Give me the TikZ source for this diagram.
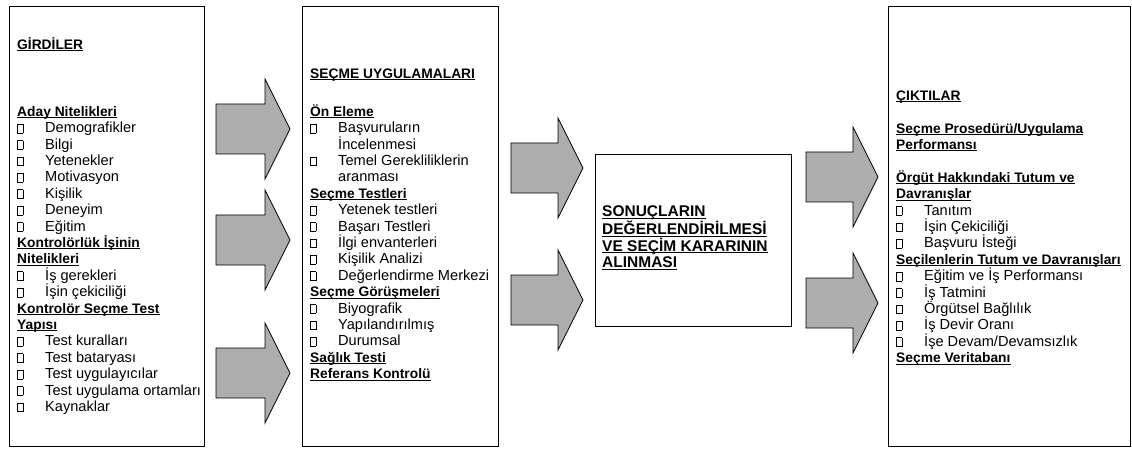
\documentclass[tikz,border=0pt]{standalone}
\usepackage{fontspec}
\setmainfont{Liberation Sans}
\begin{document}
% underlined word group, rule just below the baseline
\newcommand\ulx[1]{\setbox0\hbox{#1}\rlap{\rule[-2pt]{\wd0}{1pt}}\box0}
% small open square used as list bullet
\newcommand\sqb{{\fboxsep=0pt\fboxrule=0.8pt\fbox{\rule{0pt}{8pt}\hspace{4.6pt}}}}
\newcommand\itm[1]{\makebox[28pt][l]{\sqb}#1}
\newcommand\hd[1]{{\fontsize{13.8}{16.4}\selectfont\bfseries\ulx{#1}}}
\newcommand\cont[1]{\hspace*{28pt}#1}
\begin{tikzpicture}[x=1pt,y=1pt,
  frame/.style={draw=black, line width=0.9pt},
  listtext/.style={anchor=north west, inner sep=0pt, align=left,
    font=\fontsize{14.6}{16.4}\selectfont},
  blockarrow/.style={draw=black, line width=0.8pt, fill=black!32, line join=miter}]
\useasboundingbox (0,0) rectangle (1132,-449);

% block arrow: shaft start, head start, tip, vertical centre
\newcommand\barrow[4]{%
  \draw[blockarrow] ({#1},{#4+25}) -- ({#2},{#4+25}) -- ({#2},{#4+50}) -- ({#3},{#4})
    -- ({#2},{#4-50}) -- ({#2},{#4-25}) -- ({#1},{#4-25}) -- cycle;}

% frames
\draw[frame] (9,-6) rectangle (204,-446);
\draw[frame] (302,-6) rectangle (498,-446);
\draw[frame] (595,-154) rectangle (791,-326);
\draw[frame] (888,-6) rectangle (1130.5,-446);

% inputs
\node[listtext] (girdiler) at (17,-37) {\rule{0pt}{12pt}\hd{GİRDİLER}\\[50.6pt]
\hd{Aday Nitelikleri}\\
\itm{Demografikler}\\
\itm{Bilgi}\\
\itm{Yetenekler}\\
\itm{Motivasyon}\\
\itm{Kişilik}\\
\itm{Deneyim}\\
\itm{Eğitim}\\
\hd{Kontrolörlük İşinin}\\
\hd{Nitelikleri}\\
\itm{İş gerekleri}\\
\itm{İşin çekiciliği}\\
\hd{Kontrolör Seçme Test}\\
\hd{Yapısı}\\
\itm{Test kuralları}\\
\itm{Test bataryası}\\
\itm{Test uygulayıcılar}\\
\itm{Test uygulama ortamları}\\
\itm{Kaynaklar}};

% selection practices
\node[listtext] (secme) at (310,-66) {\rule{0pt}{12pt}\hd{SEÇME UYGULAMALARI}\\[21.6pt]
\hd{Ön Eleme}\\
\itm{Başvuruların}\\
\cont{İncelenmesi}\\
\itm{Temel Gerekliliklerin}\\
\cont{aranması}\\
\hd{Seçme Testleri}\\
\itm{Yetenek testleri}\\
\itm{Başarı Testleri}\\
\itm{İlgi envanterleri}\\
\itm{Kişilik Analizi}\\
\itm{Değerlendirme Merkezi}\\
\hd{Seçme Görüşmeleri}\\
\itm{Biyografik}\\
\itm{Yapılandırılmış}\\
\itm{Durumsal}\\
\hd{Sağlık Testi}\\
\hd{Referans Kontrolü}};

% evaluation and decision
\node[listtext, font=\fontsize{15.5}{16.6}\selectfont] (karar) at (602,-204.5)
{\rule{0pt}{12pt}{\bfseries\ulx{SONUÇLARIN}}\\
{\bfseries\ulx{DEĞERLENDİRİLMESİ}}\\
{\bfseries\ulx{VE SEÇİM KARARININ}}\\
{\bfseries\ulx{ALINMASI}}};

% outputs
\node[listtext] (ciktilar) at (896,-88) {\rule{0pt}{12pt}\hd{ÇIKTILAR}\\[16.4pt]
\hd{Seçme Prosedürü/Uygulama}\\
\hd{Performansı}\\[16.4pt]
\hd{Örgüt Hakkındaki Tutum ve}\\
\hd{Davranışlar}\\
\itm{Tanıtım}\\
\itm{İşin Çekiciliği}\\
\itm{Başvuru İsteği}\\
\hd{Seçilenlerin Tutum ve Davranışları}\\
\itm{Eğitim ve İş Performansı}\\
\itm{İş Tatmini}\\
\itm{Örgütsel Bağlılık}\\
\itm{İş Devir Oranı}\\
\itm{İşe Devam/Devamsızlık}\\
\hd{Seçme Veritabanı}};

% arrows
\barrow{216}{265}{290}{-129}
\barrow{216}{265}{290}{-240}
\barrow{216}{265}{290}{-373}
\barrow{511}{558}{583}{-168}
\barrow{511}{558}{583}{-300}
\barrow{806}{853}{878}{-177}
\barrow{806}{853}{878}{-303}
\end{tikzpicture}
\end{document}
